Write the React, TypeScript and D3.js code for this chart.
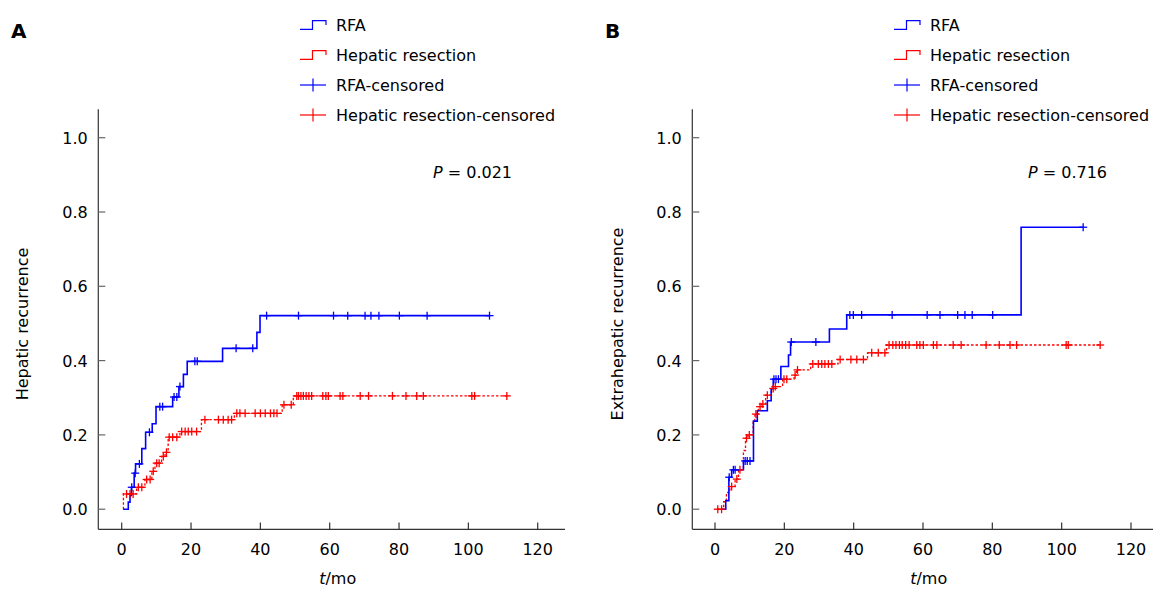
import React from "react";
import * as d3 from "d3";

// ---------- data ----------
const X_TICKS = [0, 20, 40, 60, 80, 100, 120];
const Y_TICKS = [0, 0.2, 0.4, 0.6, 0.8, 1.0];
const LEGEND_LABELS = ["RFA", "Hepatic resection", "RFA-censored", "Hepatic resection-censored"];

// Panel A: hepatic recurrence
const aRfaStart = 0.45;
const aRfaTimes = [1.9, 2.4, 2.8, 3.6, 4.0, 5.8, 6.9, 8.8, 9.9, 14.7, 16.5, 17.8, 18.9, 29.1, 39.0, 39.9];
const aRfaValues = [0.019, 0.037, 0.059, 0.097, 0.122, 0.163, 0.207, 0.23, 0.276, 0.302, 0.33, 0.363, 0.398, 0.433, 0.476, 0.521];
const aRfaCensored = [2.9, 3.9, 5.1, 8.0, 11.0, 11.8, 15.1, 15.9, 16.8, 21.1, 21.8, 33.0, 37.8, 41.8, 51.0, 61.1, 65.2, 70.2, 71.9, 74.2, 80.1, 88.1, 106.1];

const aHrStart = 0.45;
const aHrTimes = [0.5, 4.3, 6.7, 8.7, 9.6, 11.5, 12.5, 13.4, 16.8, 23.0, 32.5, 46.3, 49.5];
const aHrValues = [0.041, 0.059, 0.08, 0.102, 0.124, 0.142, 0.153, 0.194, 0.209, 0.241, 0.258, 0.281, 0.305];
const aHrCensored = [1.4, 2.4, 3.3, 4.8, 5.8, 7.2, 8.2, 9.1, 10.1, 10.8, 12.0, 12.9, 13.7, 14.7, 15.9, 17.3, 18.3, 19.2, 20.2, 21.6, 24.0, 27.9, 29.3, 30.7, 31.7, 33.2, 34.1, 35.6, 38.5, 40.0, 41.4, 42.9, 43.9, 44.8, 46.8, 48.9, 50.5, 51.0, 51.7, 52.4, 53.2, 54.0, 54.8, 58.0, 58.9, 59.6, 63.0, 63.8, 68.8, 71.2, 78.1, 82.0, 85.1, 87.0, 101.0, 101.8, 111.1];

// Panel B: extrahepatic recurrence
const bRfaStart = 1.9;
const bRfaTimes = [3.1, 4.0, 4.8, 8.2, 11.1, 12.2, 15.1, 16.2, 16.8, 19.0, 21.2, 21.8, 33.0, 38.0, 88.3];
const bRfaValues = [0.023, 0.086, 0.106, 0.13, 0.237, 0.265, 0.292, 0.324, 0.35, 0.384, 0.415, 0.45, 0.485, 0.523, 0.759];
const bRfaCensored = [4.1, 5.3, 5.8, 8.7, 9.3, 10.1, 17.0, 17.6, 18.3, 22.0, 29.1, 38.9, 39.9, 42.3, 51.1, 61.2, 64.9, 70.0, 72.1, 74.2, 80.1, 106.2];

const bHrStart = 0.5;
const bHrTimes = [2.5, 3.3, 4.3, 5.8, 6.8, 8.2, 8.8, 9.5, 11.0, 11.5, 12.5, 13.4, 14.6, 16.3, 17.2, 19.5, 22.8, 23.5, 27.6, 35.5, 44.0, 49.5];
const bHrValues = [0.02, 0.045, 0.061, 0.081, 0.106, 0.158, 0.191, 0.2, 0.236, 0.256, 0.276, 0.283, 0.307, 0.325, 0.33, 0.35, 0.361, 0.375, 0.391, 0.403, 0.421, 0.442];
const bHrCensored = [0.8, 1.9, 4.8, 6.3, 7.2, 9.1, 9.9, 11.8, 13.0, 13.8, 15.1, 16.8, 17.4, 19.9, 20.7, 23.1, 23.8, 28.2, 29.8, 30.8, 31.7, 32.7, 33.7, 36.1, 39.2, 40.9, 42.8, 45.2, 47.1, 49.0, 50.2, 51.3, 52.2, 53.2, 54.0, 55.0, 56.0, 58.2, 59.1, 60.1, 63.0, 64.0, 68.7, 71.0, 78.2, 82.0, 85.1, 87.0, 101.3, 101.9, 111.1];

// ---------- styling ----------
const FONT = "'DejaVu Sans', Verdana, sans-serif";
const BLUE = "#0000ff";
const RED = "#ff0000";

type Series = { start: number; times: number[]; values: number[]; censored: number[] };

function valueAt(s: Series, t: number) {
  const i = d3.bisectRight(s.times, t);
  return i === 0 ? 0 : s.values[i - 1];
}

function stepPoints(s: Series): [number, number][] {
  const end = Math.max(d3.max(s.censored) ?? 0, s.times[s.times.length - 1]);
  const pts: [number, number][] = [[s.start, 0]];
  s.times.forEach((t, i) => pts.push([t, s.values[i]]));
  pts.push([end, s.values[s.values.length - 1]]);
  return pts;
}

type PanelProps = {
  letter: string;
  letterX: number;
  axisX: number;
  zeroX: number;
  axisEnd: number;
  yLabel: string;
  yLabelX: number;
  pText: string;
  pX: number;
  legendX: number;
  rfa: Series;
  hr: Series;
};

function Panel(p: PanelProps) {
  const x = d3.scaleLinear().domain([0, 120]).range([p.zeroX, p.zeroX + 416]);
  const y = d3.scaleLinear().domain([0, 1]).range([509.2, 137.7]);
  const axisBottom = 529.3;
  const axisTop = 109.3;
  const line = d3
    .line<[number, number]>()
    .x((d) => x(d[0]))
    .y((d) => y(d[1]))
    .curve(d3.curveStepAfter);

  const cs = 4;
  const renderCensors = (s: Series, color: string) =>
    s.censored.map((t, i) => {
      const cx = x(t);
      const cy = y(valueAt(s, t));
      return (
        <g key={i} stroke={color} strokeWidth={1.3}>
          <line x1={cx - cs} x2={cx + cs} y1={cy} y2={cy} />
          <line x1={cx} x2={cx} y1={cy - cs} y2={cy + cs} />
        </g>
      );
    });

  const lx = p.legendX;
  const rows = [25, 55, 85, 115];
  const stepIcon = (cy: number) =>
    `M${lx},${cy + 4.3} H${lx + 12.5} V${cy - 4.3} H${lx + 26} V${cy}`;

  return (
    <g fontFamily={FONT}>
      <text x={p.letterX} y={38} fontSize={20} fontWeight={900} fill="#000">
        {p.letter}
      </text>

      {/* legend */}
      <path d={stepIcon(rows[0])} fill="none" stroke={BLUE} strokeWidth={1.2} />
      <path d={stepIcon(rows[1])} fill="none" stroke={RED} strokeWidth={1.2} />
      <g stroke={BLUE} strokeWidth={1.2}>
        <line x1={lx} x2={lx + 26} y1={rows[2]} y2={rows[2]} />
        <line x1={lx + 13} x2={lx + 13} y1={rows[2] - 6.5} y2={rows[2] + 6.5} />
      </g>
      <g stroke={RED} strokeWidth={1.2}>
        <line x1={lx} x2={lx + 26} y1={rows[3]} y2={rows[3]} />
        <line x1={lx + 13} x2={lx + 13} y1={rows[3] - 6.5} y2={rows[3] + 6.5} />
      </g>
      {LEGEND_LABELS.map((lab, i) => (
        <text key={lab} x={lx + 36} y={rows[i] + 6} fontSize={16} fill="#000">
          {lab}
        </text>
      ))}

      {/* axes */}
      <line x1={p.axisX} x2={p.axisX} y1={axisTop} y2={axisBottom} stroke="#333" strokeWidth={1.2} />
      <line x1={p.axisX} x2={p.axisEnd} y1={axisBottom} y2={axisBottom} stroke="#333" strokeWidth={1.2} />
      {Y_TICKS.map((v) => (
        <g key={v}>
          <line x1={p.axisX} x2={p.axisX + 7} y1={y(v)} y2={y(v)} stroke="#666" strokeWidth={1.2} />
          <text x={p.axisX - 10.5} y={y(v) + 6} fontSize={16} textAnchor="end" fill="#000">
            {d3.format(".1f")(v)}
          </text>
        </g>
      ))}
      {X_TICKS.map((v) => (
        <g key={v}>
          <line x1={x(v)} x2={x(v)} y1={axisBottom} y2={axisBottom - 6.7} stroke="#333" strokeWidth={1.2} />
          <text x={x(v)} y={555} fontSize={16} textAnchor="middle" fill="#000">
            {v}
          </text>
        </g>
      ))}
      <text x={(p.axisX + p.axisEnd) / 2 + 6} y={584} fontSize={16} textAnchor="middle" fill="#000">
        <tspan fontStyle="italic">t</tspan>/mo
      </text>
      <text
        transform={`translate(${p.yLabelX},324) rotate(-90)`}
        fontSize={16}
        textAnchor="middle"
        fill="#000"
      >
        {p.yLabel}
      </text>

      <text x={p.pX} y={178} fontSize={16} fill="#000">
        <tspan fontStyle="italic">P</tspan> = {p.pText}
      </text>

      {/* curves */}
      <path d={line(stepPoints(p.hr)) ?? ""} fill="none" stroke={RED} strokeWidth={1.3} strokeDasharray="2.5,2" />
      <path d={line(stepPoints(p.rfa)) ?? ""} fill="none" stroke={BLUE} strokeWidth={1.6} />
      {renderCensors(p.hr, RED)}
      {renderCensors(p.rfa, BLUE)}
    </g>
  );
}

export default function App() {
  const aRfa: Series = { start: aRfaStart, times: aRfaTimes, values: aRfaValues, censored: aRfaCensored };
  const aHr: Series = { start: aHrStart, times: aHrTimes, values: aHrValues, censored: aHrCensored };
  const bRfa: Series = { start: bRfaStart, times: bRfaTimes, values: bRfaValues, censored: bRfaCensored };
  const bHr: Series = { start: bHrStart, times: bHrTimes, values: bHrValues, censored: bHrCensored };
  return (
    <svg
      width={1154}
      height={590}
      style={{ position: "absolute", left: 0, top: 0, background: "#fff" }}
    >
      <rect width={1154} height={590} fill="#fff" />
      <Panel
        letter="A"
        letterX={11}
        axisX={98.3}
        zeroX={121.7}
        axisEnd={565}
        yLabel="Hepatic recurrence"
        yLabelX={28}
        pText="0.021"
        pX={433}
        legendX={300}
        rfa={aRfa}
        hr={aHr}
      />
      <Panel
        letter="B"
        letterX={605}
        axisX={692.3}
        zeroX={715}
        axisEnd={1153}
        yLabel="Extrahepatic recurrence"
        yLabelX={623}
        pText="0.716"
        pX={1028}
        legendX={894}
        rfa={bRfa}
        hr={bHr}
      />
    </svg>
  );
}
